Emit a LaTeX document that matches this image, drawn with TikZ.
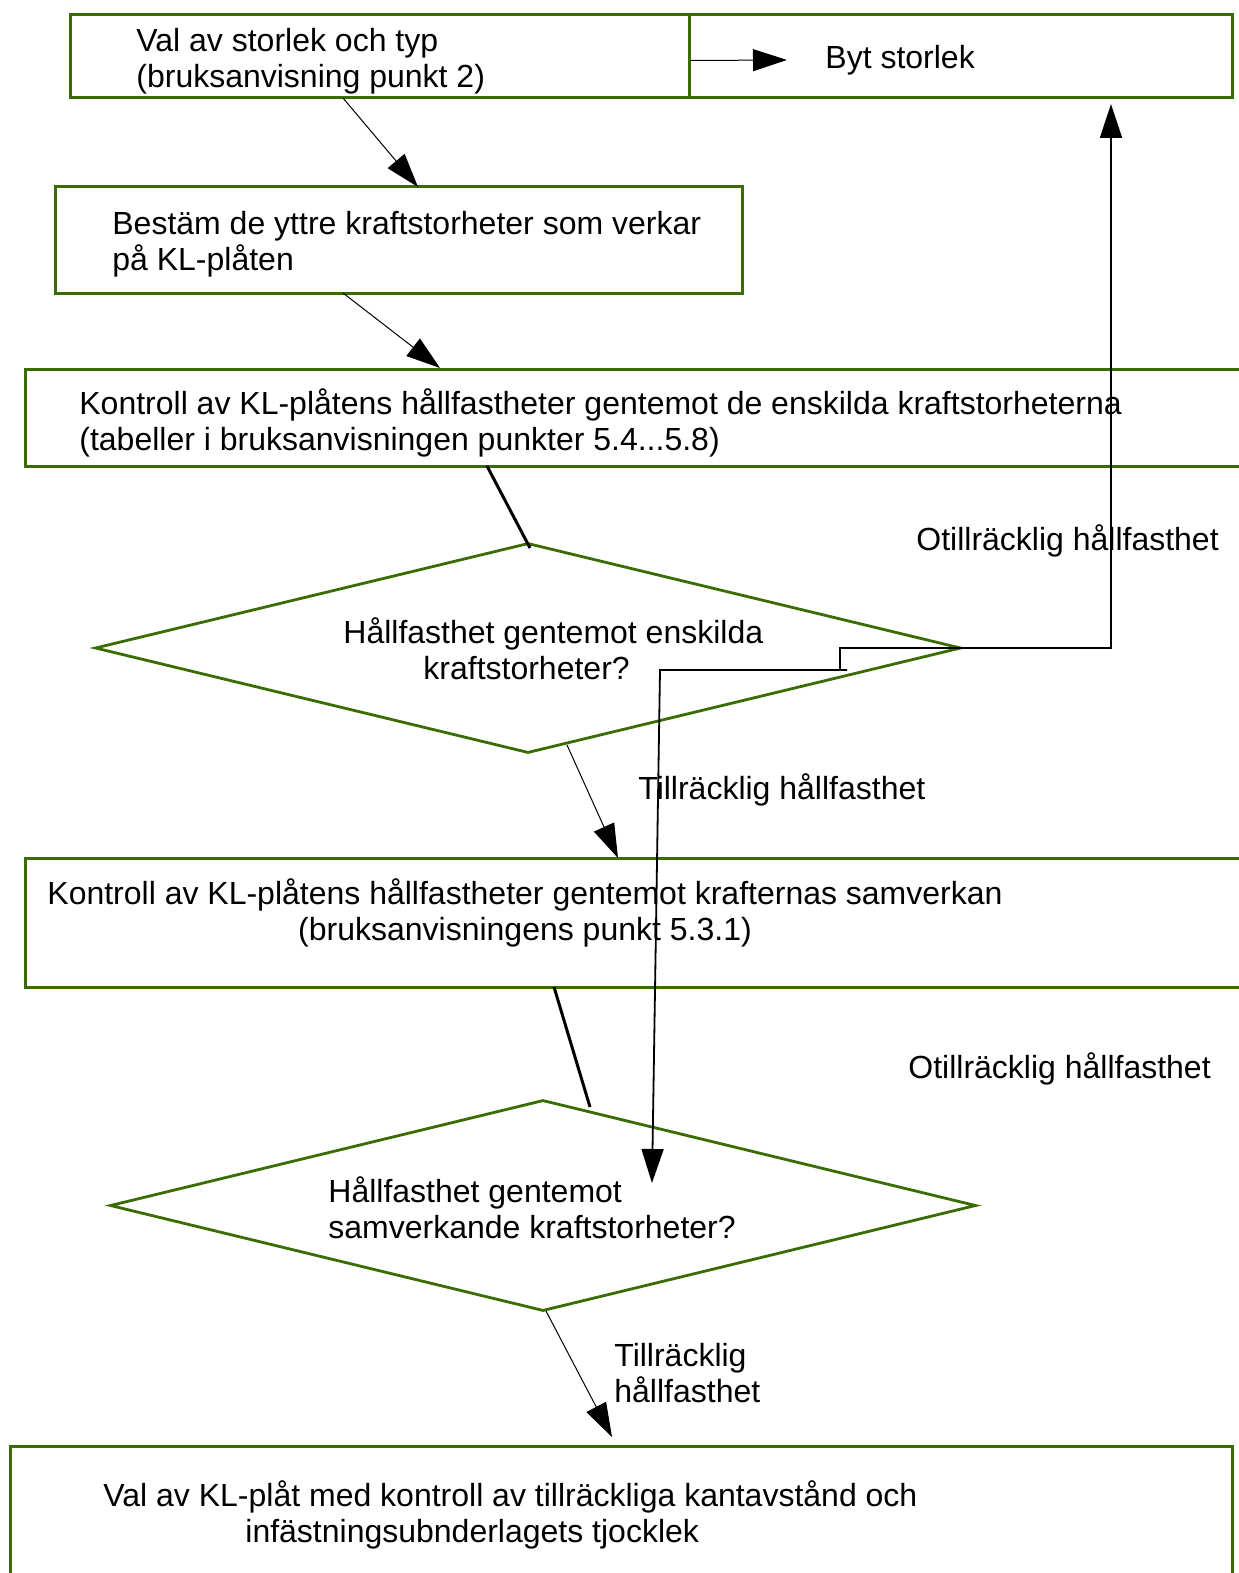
\documentclass[tikz,border=0pt]{standalone}
\usepackage{fontspec}
\setmainfont{Liberation Sans}
\usetikzlibrary{shapes.geometric,arrows.meta}
\definecolor{kgreen}{RGB}{58,108,4}
\tikzset{
  gbox/.style={draw=kgreen, line width=1.5pt, inner sep=0pt, shape=rectangle},
  gdia/.style={draw=kgreen, line width=1.4pt, inner sep=0pt, shape=diamond, minimum width=433pt, minimum height=105pt},
  txt/.style={inner sep=0pt, anchor=west, align=left},
  thin/.style={line width=0.5pt, -{Triangle[length=17pt,width=11pt]}},
  flow/.style={line width=0.9pt},
  heavy/.style={line width=1.5pt}
}
\begin{document}
\begin{tikzpicture}[x=0.5pt,y=-0.5pt,font=\fontsize{16}{18}\selectfont]
\useasboundingbox (0,0) rectangle (1238,1573);
\node[gbox, minimum width=309.5pt, minimum height=41.5pt] (val) at (379.5,56.5) {};
\node[gbox, minimum width=271.5pt, minimum height=41.5pt] (byt) at (960.5,56.5) {};
\node[gbox, minimum width=343.5pt, minimum height=53pt] (bestam) at (398.5,240) {};
\node[gbox, minimum width=610pt, minimum height=48.5pt] (kontroll1) at (635,417.5) {};
\node[gdia] (fraga1) at (528,648) {};
\node[gbox, minimum width=610pt, minimum height=64.5pt] (kontroll2) at (635,922.5) {};
\node[gdia, minimum height=105.5pt] (fraga2) at (543,1205.5) {};
\node[gbox, minimum width=611pt, minimum height=67pt] (slut) at (621,1513) {};

\node[txt] (valtxt) at (136,61) {Val av storlek och typ\\(bruksanvisning punkt 2)};
\node[txt] (byttxt) at (825,60) {Byt storlek};
\node[txt] (bestamtxt) at (112,244) {Bestäm de yttre kraftstorheter som verkar\\på KL-plåten};
\node[txt] (kontroll1txt) at (79,423) {Kontroll av KL-plåtens hållfastheter gentemot de enskilda kraftstorheterna\\(tabeller i bruksanvisningen punkter 5.4...5.8)};
\node[txt] (fraga1txt) at (343,649) {Hållfasthet gentemot enskilda\\\hspace*{40pt}kraftstorheter?};
\node[inner sep=0pt, align=center] (kontroll2txt) at (525,913) {Kontroll av KL-plåtens hållfastheter gentemot krafternas samverkan\\(bruksanvisningens punkt 5.3.1)};
\node[txt] (fraga2txt) at (328,1208) {Hållfasthet gentemot\\samverkande kraftstorheter?};
\node[txt] (sluttxt) at (103,1515) {Val av KL-plåt med kontroll av tillräckliga kantavstånd och\\\hspace*{71pt}infästningsubnderlagets tjocklek};
\node[txt] (otill1) at (916,541) {Otillräcklig hållfasthet};
\node[txt] (till1) at (638,790) {Tillräcklig hållfasthet};
\node[txt] (otill2) at (908,1069) {Otillräcklig hållfasthet};
\node[txt] (till2) at (614,1373) {Tillräcklig\\hållfasthet};

\coordinate (valut) at (343,98);
\coordinate (bestamin) at (418,187);
\coordinate (bestamut) at (343,293);
\coordinate (kontroll1in) at (440,368);
\coordinate (kontroll1ut) at (487,466);
\coordinate (fraga1in) at (530,548);
\coordinate (fraga1ut) at (567,745);
\coordinate (kontroll2in) at (618,858);
\coordinate (kontroll2ut) at (554,987);
\coordinate (fraga2in) at (590,1107);
\coordinate (fraga2ut) at (546,1311);
\coordinate (slutin) at (612,1437);
\coordinate (bytin) at (1111,104);
\coordinate (pil) at (787,60);
\coordinate (horn) at (1111,648);
\coordinate (steg) at (840,648);
\coordinate (steg2) at (840,670);
\coordinate (stegslut) at (847,670);
\coordinate (knä) at (660,670);
\coordinate (fraga2mitt) at (652,1183);

\draw[thin] (valut) -- (bestamin);
\draw[thin] (bestamut) -- (kontroll1in);
\draw[heavy] (kontroll1ut) -- (fraga1in);
\draw[thin] (fraga1ut) -- (kontroll2in);
\draw[heavy] (kontroll2ut) -- (fraga2in);
\draw[thin] (fraga2ut) -- (slutin);
\draw[thin] (val.east) ++(0,4) -- (pil);
\draw[flow, -{Triangle[length=17pt,width=11pt]}] (fraga1.east) -- (horn) -- (bytin);
\draw[flow] (fraga1.east) -- (steg) -- (steg2);
\draw[flow, -{Triangle[length=17pt,width=11pt]}] (stegslut) -- (knä) -- (fraga2mitt);
\end{tikzpicture}
\end{document}
